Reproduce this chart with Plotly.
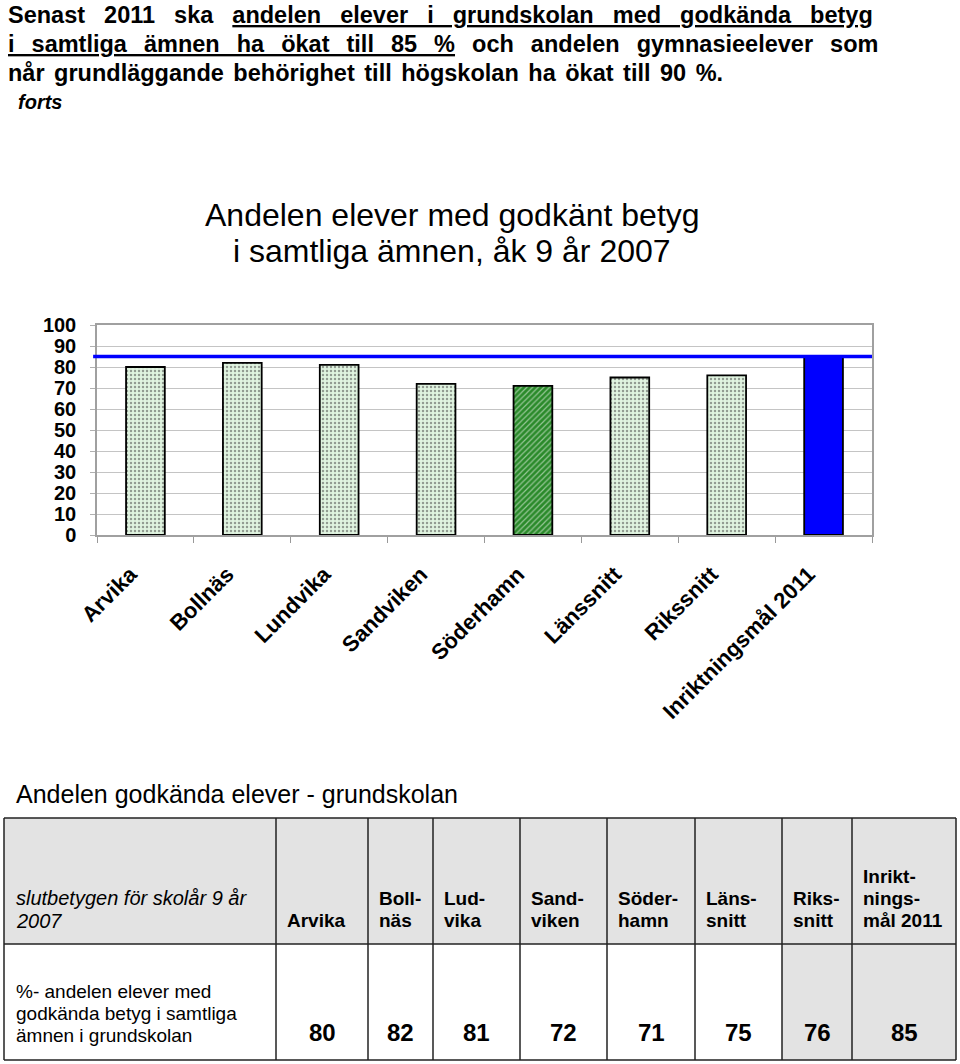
import plotly.graph_objects as go

W, H = 960, 1064

categories = ["Arvika", "Bollnäs", "Lundvika", "Sandviken", "Söderhamn",
              "Länssnitt", "Rikssnitt", "Inriktningsmål 2011"]
values = [80, 82, 81, 72, 71, 75, 76, 85]
target_value = 85

table_header_label = "slutbetygen för skolår 9 år<br>2007"
table_headers = ["Arvika", "Boll-<br>näs", "Lud-<br>vika", "Sand-<br>viken",
                 "Söder-<br>hamn", "Läns-<br>snitt", "Riks-<br>snitt",
                 "Inrikt-<br>nings-<br>mål 2011"]
table_row_label = "%- andelen elever med<br>godkända betyg i samtliga<br>ämnen i grundskolan"
table_values = [80, 82, 81, 72, 71, 75, 76, 85]

# styles
LIGHT = "#e0f4e0"
DOT = "#2c862c"
DARK = "#2a8a2a"
pattern_shapes = [".", ".", ".", ".", "/", ".", ".", ""]
pattern_bg = [LIGHT] * 4 + [DARK] + [LIGHT] * 2 + ["#0000ff"]
pattern_fg = [DOT] * 4 + ["#b8f2b8"] + [DOT] * 2 + ["#0000ff"]
bar_colors = [LIGHT] * 4 + [DARK] + [LIGHT] * 2 + ["#0000ff"]

FONT = "Liberation Sans, Arial, sans-serif"


def px(x):
    return x / W


def py(y):
    return 1 - y / H


fig = go.Figure()
fig.add_trace(go.Bar(
    x=categories, y=values, width=0.4,
    marker=dict(color=bar_colors,
                line=dict(color="#000000", width=1.8),
                pattern=dict(shape=pattern_shapes, bgcolor=pattern_bg,
                             fgcolor=pattern_fg, size=4, solidity=0.3)),
    hoverinfo="x+y", showlegend=False,
))

fig.add_shape(type="line", xref="x domain", yref="y", x0=-0.005, x1=1,
              y0=target_value, y1=target_value,
              line=dict(color="#0000ff", width=3.5), layer="above")

annotations = []


def add_text(text, x, y, size, xanchor="left", yanchor="middle", bold=False,
             italic=False):
    annotations.append(dict(
        text=text, x=px(x), y=py(y), xref="paper", yref="paper",
        xanchor=xanchor, yanchor=yanchor, showarrow=False, align="left",
        font=dict(family=FONT, size=size, color="#000000",
                  weight="bold" if bold else "normal",
                  style="italic" if italic else "normal"),
    ))


U = '<span style="text-decoration:underline">'
add_text('<span style="word-spacing:12.5px">Senast 2011 ska ' + U +
         "andelen elever i grundskolan med godkända betyg</span></span>",
         6, 15, 23.5, bold=True)
add_text('<span style="word-spacing:10.5px">' + U +
         "i samtliga ämnen ha ökat till 85 %</span> och andelen gymnasieelever som</span>",
         6, 44, 23.5, bold=True)
add_text('<span style="word-spacing:3px">når grundläggande behörighet till högskolan '
         'ha ökat till 90 %.</span>',
         6, 73, 23.5, bold=True)
add_text("forts", 16, 102, 20, bold=True, italic=True)

add_text("Andelen elever med godkänt betyg", 452, 215, 32, xanchor="center")
add_text("i samtliga ämnen, åk 9 år 2007", 452, 251, 32, xanchor="center")

add_text("Andelen godkända elever - grundskolan", 14, 794, 25)

# table geometry
col_edges = [4, 276, 368, 433, 520, 607, 695, 782, 852, 956]
row_edges = [818, 944, 1060]
gray = "#e3e3e3"
shapes = []
ncols = len(col_edges) - 1
for c in range(ncols):
    shapes.append(dict(type="rect", xref="paper", yref="paper",
                       x0=px(col_edges[c]), x1=px(col_edges[c + 1]),
                       y0=py(row_edges[1]), y1=py(row_edges[0]),
                       fillcolor=gray, line=dict(width=0), layer="below"))
    body_fill = gray if c >= ncols - 2 else "#ffffff"
    shapes.append(dict(type="rect", xref="paper", yref="paper",
                       x0=px(col_edges[c]), x1=px(col_edges[c + 1]),
                       y0=py(row_edges[2]), y1=py(row_edges[1]),
                       fillcolor=body_fill, line=dict(width=0), layer="below"))
for xe in col_edges:
    shapes.append(dict(type="line", xref="paper", yref="paper",
                       x0=px(xe), x1=px(xe), y0=py(row_edges[2]), y1=py(row_edges[0]),
                       line=dict(color="#222222", width=1.5)))
for ye in row_edges:
    shapes.append(dict(type="line", xref="paper", yref="paper",
                       x0=px(col_edges[0]), x1=px(col_edges[-1]), y0=py(ye), y1=py(ye),
                       line=dict(color="#222222", width=1.5)))
for s in shapes:
    fig.add_shape(**s)


def add_lines(text, x, last_center, size, spacing, xanchor="left", **kw):
    lines = text.split("<br>")
    for j, line in enumerate(reversed(lines)):
        add_text(line, x, last_center - j * spacing, size, xanchor=xanchor, **kw)


add_lines(table_header_label, 14, 921, 20, 23, italic=True)
for c, lab in enumerate(table_headers):
    add_lines(lab, col_edges[c + 1] + 9, 920, 19, 22, bold=True)
add_lines(table_row_label, 14, 1035, 19, 22)
for c, v in enumerate(table_values):
    cx = (col_edges[c + 1] + col_edges[c + 2]) / 2
    add_text(str(v), cx, 1032, 24, xanchor="center", bold=True)

fig.update_layout(
    width=W, height=H, margin=dict(l=0, r=0, t=0, b=0, autoexpand=False),
    paper_bgcolor="#ffffff", plot_bgcolor="#ffffff",
    annotations=annotations, bargap=0.6,
    xaxis=dict(domain=[px(97), px(872)], type="category", tickson="boundaries",
               automargin=False,
               ticks="outside", ticklen=6, tickcolor="#999999", tickangle=-45,
               ticklabelstandoff=16, ticklabelshift=-15,
               showline=True, linecolor="#a0a0a0", linewidth=1.5, mirror=True,
               showgrid=False,
               tickfont=dict(family=FONT, size=22, color="#000000", weight="bold")),
    yaxis=dict(domain=[py(535), py(325)], range=[0, 100], dtick=10,
               automargin=False,
               ticks="outside", ticklen=5, tickcolor="#b0b0b0",
               ticklabelstandoff=10,
               showline=True, linecolor="#a0a0a0", linewidth=1.5, mirror=True,
               gridcolor="#c4c4c4", gridwidth=1.2, zeroline=False,
               tickfont=dict(family=FONT, size=20, color="#000000", weight="bold")),
)

fig.write_html("out.html")
